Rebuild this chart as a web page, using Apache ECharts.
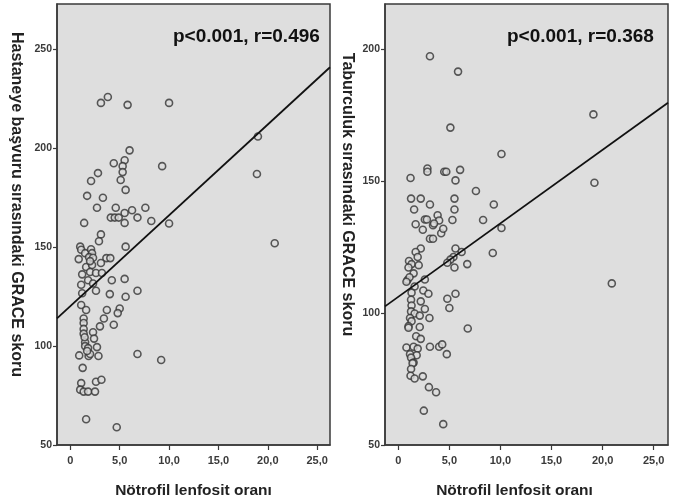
<!DOCTYPE html>
<html>
<head>
<meta charset="utf-8">
<script src="https://cdn.jsdelivr.net/npm/echarts@6/dist/echarts.min.js"></script>
<style>
html,body{margin:0;padding:0;background:#fff;}
#chart{width:675px;height:504px;}
</style>
</head>
<body>
<div id="chart"></div>
<script>
// Left panel: admission GRACE score vs NLR
const leftX = [3.1,3.8,5.8,10.0,6.0,5.5,4.4,5.3,9.3,5.3,2.8,2.1,5.1,5.6,1.7,3.3,2.7,4.6,7.6,6.25,5.5,4.1,4.5,4.9,6.8,5.5,8.2,10.0,1.4,19.0,18.9,20.7,3.1,2.9,5.6,1.0,1.1,1.5,2.1,2.2,0.85,1.9,2.3,3.65,4.05,1.6,2.2,3.1,1.2,2.0,2.6,3.2,1.8,2.3,4.2,5.5,1.2,2.6,4.0,5.6,6.8,1.1,1.6,3.7,5.0,4.8,3.4,1.35,1.35,3.0,4.4,1.35,2.3,1.35,2.4,1.5,1.5,1.8,2.7,0.9,1.85,2.0,2.85,6.8,9.2,1.25,1.1,1.0,1.35,1.8,2.5,2.6,3.15,1.6,4.7,1.45,1.7,1.1,2.0];
const leftY = [223,226,222,223,199,194,192.5,191,191,188,187.5,183.5,184,179,176,175,170,170,170,168.7,167.3,165,165,165,165,162.3,163.3,162,162.3,206,187,152,156.5,153,150.3,150.3,148.7,147,149,147,144,145,144.7,144.5,144.5,140,141,142,136.3,137.5,137,137,133.3,131.7,133.3,134,126.7,128,126.3,125,128,120.8,118.3,118.3,119,116.7,114,114,111.7,110,110.8,108.7,107,106.3,103.8,102,100,99,99.5,95.3,95,96,95,96,93,89,81.3,78,77,77,77,82,83,63,59,104.5,97.5,131,143];
// Right panel: discharge GRACE score vs NLR
const rightX = [3.1,5.85,5.1,19.1,19.2,10.1,1.2,2.85,2.85,4.5,4.7,6.05,5.6,7.6,1.25,2.2,5.5,1.55,3.1,5.5,9.35,3.85,2.6,2.8,1.7,3.4,4.0,5.3,8.3,2.4,4.2,3.1,3.4,10.1,2.2,1.7,5.6,6.2,9.25,3.5,4.4,1.9,5.4,5.1,1.05,1.3,2.0,1.0,4.8,5.5,6.75,1.5,0.9,1.1,0.8,2.6,1.6,1.3,2.45,2.95,5.6,4.8,5.0,1.25,2.2,1.3,2.6,1.25,1.6,2.1,3.05,1.15,1.3,1.0,1.0,2.1,6.8,1.75,2.2,0.8,1.5,1.9,3.1,4.0,4.3,1.15,1.8,1.25,4.75,1.5,1.4,1.25,1.2,1.6,2.4,3.0,3.7,2.5,4.4,20.9];
const rightY = [197.2,191.4,170.2,175.2,149.3,160.2,151.1,154.7,153.5,153.5,153.5,154.2,150.2,146.2,143.3,143.3,143.3,139.2,141.1,139.2,141.1,137,135.4,135.4,133.6,133.2,135,135.2,135.2,131.5,130.2,128.1,128.1,132.2,124.4,123.1,124.4,123.1,122.7,133.9,131.9,121.2,121.2,120.2,119.7,118.5,118.1,117.2,119,117.2,118.5,115,112.5,113.5,111.8,112.7,110,107.7,108.5,107.3,107.3,105.4,101.9,105,104.4,102.8,101.5,100.6,99.8,99,98.1,98.1,96.9,95,94.4,94.7,94.1,91.2,90.2,86.9,87.2,86.5,87.2,87.2,88.1,84.4,84,83.1,84.4,81.2,81,78.8,76.2,75.2,76,71.9,70,63,57.9,111.2];
// Fit line endpoints (read at plot edges)
const leftFitX = [-1.35, 26.3];
const leftFitY = [114, 241];
const rightFitX = [-1.3, 26.4];
const rightFitY = [102.5, 179.6];
// Ticks
const xTickValues = [0,5,10,15,20,25];
const xTickLabels = ['0','5,0','10,0','15,0','20,0','25,0'];
const leftYTicks = [50,100,150,200,250];
const rightYTicks = [50,100,150,200];
const xTitle = 'Nötrofil lenfosit oranı';
const leftYTitle = 'Hastaneye başvuru sırasındaki GRACE skoru';
const rightYTitle = 'Taburculuk sırasındaki GRACE skoru';
const leftStat = 'p<0.001, r=0.496';
const rightStat = 'p<0.001, r=0.368';

const FONT = '"Liberation Sans", Arial, Helvetica, sans-serif';
const zip = (a, b) => a.map((v, i) => [v, b[i]]);

function xAxis(gi, min, max, padRight) {
  return {
    type: 'value', gridIndex: gi, min: min, max: max,
    axisLine: { show: true, onZero: false, lineStyle: { color: '#3a3a3a', width: 1.5 } },
    axisTick: { show: true, customValues: xTickValues, length: 5, lineStyle: { color: '#3a3a3a', width: 1.2 } },
    axisLabel: {
      customValues: xTickValues,
      formatter: v => { const i = xTickValues.findIndex(t => Math.abs(t - v) < 1e-6); return i >= 0 ? xTickLabels[i] : ''; },
      color: '#3a3a3a', fontSize: 11, fontWeight: 'bold', fontFamily: FONT, margin: 10
    },
    splitLine: { show: false },
    name: xTitle, nameLocation: 'middle', nameGap: 38,
    nameTextStyle: { color: '#222', fontSize: 15.5, fontWeight: 'bold', fontFamily: FONT, padding: [0, padRight, 0, 0] }
  };
}
function yAxis(gi, min, max, ticks, title, gap, padRight) {
  return {
    type: 'value', gridIndex: gi, min: min, max: max,
    axisLine: { show: true, onZero: false, lineStyle: { color: '#3a3a3a', width: 1.5 } },
    axisTick: { show: true, customValues: ticks, length: 4, lineStyle: { color: '#3a3a3a', width: 1.2 } },
    axisLabel: {
      customValues: ticks,
      color: '#3a3a3a', fontSize: 10.5, fontWeight: 'bold', fontFamily: FONT, margin: 5
    },
    splitLine: { show: false },
    name: title, nameLocation: 'middle', nameGap: gap, nameRotate: -90,
    nameTextStyle: { color: '#222', fontSize: 16, fontWeight: 'bold', fontFamily: FONT, padding: [0, padRight, 0, 0] }
  };
}
const scatterStyle = {
  symbol: 'circle', symbolSize: 7,
  itemStyle: { color: '#dcdcdc', borderColor: '#333', borderWidth: 1.6 },
  z: 3
};

const chart = echarts.init(document.getElementById('chart'), null, { renderer: 'canvas' });
chart.setOption({
  backgroundColor: '#ffffff',
  animation: false,
  grid: [
    { left: 57, top: 4, width: 273, height: 446, show: true, backgroundColor: '#dedede', borderColor: '#3a3a3a', borderWidth: 1.5 },
    { left: 385, top: 4, width: 283, height: 446, show: true, backgroundColor: '#dedede', borderColor: '#3a3a3a', borderWidth: 1.5 }
  ],
  xAxis: [ xAxis(0, -1.35, 26.3, 0), xAxis(1, -1.3, 26.4, 24) ],
  yAxis: [
    yAxis(0, 50, 273, leftYTicks, leftYTitle, 33, 40),
    yAxis(1, 50, 217, rightYTicks, rightYTitle, 30, 60)
  ],
  graphic: [
    { type: 'text', left: 173, top: 27, style: { text: leftStat, fill: '#111', font: 'bold 19px ' + FONT } },
    { type: 'text', left: 507, top: 27, style: { text: rightStat, fill: '#111', font: 'bold 19px ' + FONT } }
  ],
  series: [
    Object.assign({ type: 'scatter', xAxisIndex: 0, yAxisIndex: 0, data: zip(leftX, leftY) }, scatterStyle),
    Object.assign({ type: 'scatter', xAxisIndex: 1, yAxisIndex: 1, data: zip(rightX, rightY) }, scatterStyle),
    { type: 'line', xAxisIndex: 0, yAxisIndex: 0, data: zip(leftFitX, leftFitY), symbol: 'none', lineStyle: { color: '#111', width: 1.8 }, z: 4, silent: true },
    { type: 'line', xAxisIndex: 1, yAxisIndex: 1, data: zip(rightFitX, rightFitY), symbol: 'none', lineStyle: { color: '#111', width: 1.8 }, z: 4, silent: true }
  ]
});
</script>
</body>
</html>
